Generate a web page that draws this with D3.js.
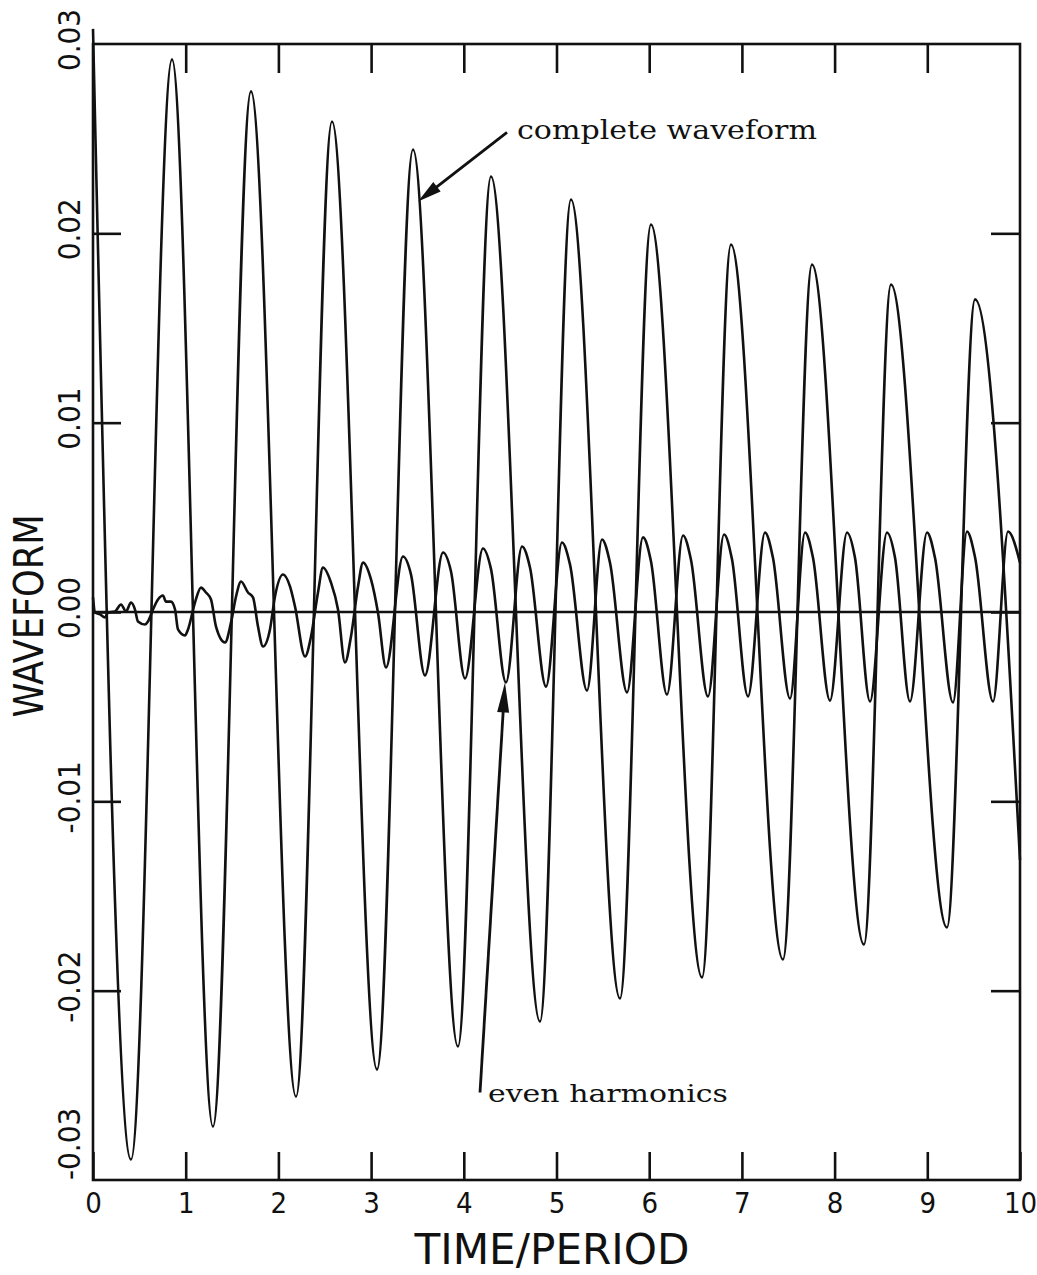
<!DOCTYPE html>
<html>
<head>
<meta charset="utf-8">
<script src="https://cdn.jsdelivr.net/npm/d3@7"></script>
<style>
  html, body { margin: 0; padding: 0; background: #fff; }
  svg { display: block; }
</style>
</head>
<body>
<svg id="chart" width="1037" height="1275"></svg>
<script>
// ---------------- data ----------------
const xTickValues = [0, 1, 2, 3, 4, 5, 6, 7, 8, 9, 10];
const xTickLabels = ["0", "1", "2", "3", "4", "5", "6", "7", "8", "9", "10"];
const yTickValues = [0.03, 0.02, 0.01, 0, -0.01, -0.02, -0.03];
const yTickLabels = ["0.03", "0.02", "0.01", "0.00", "-0.01", "-0.02", "-0.03"];

// complete waveform: successive peaks and troughs (time/period, waveform)
const completeT = [0, 0.410, 0.852, 1.294, 1.704, 2.190, 2.578, 3.064, 3.452, 3.937, 4.293, 4.822,
  5.156, 5.685, 6.019, 6.570, 6.882, 7.443, 7.756, 8.317, 8.608, 9.212, 9.515, 10.0];
const completeV = [0.0308, -0.02892, 0.02919, -0.02718, 0.02750, -0.02560, 0.02591, -0.02417,
  0.02443, -0.02295, 0.02300, -0.02163, 0.02179, -0.02041, 0.02047, -0.01930, 0.01941,
  -0.01835, 0.01835, -0.01756, 0.01730, -0.01666, 0.01651, -0.0131];

// even harmonics
const evenT = [0.000, 0.022, 0.076, 0.129, 0.162, 0.237, 0.302, 0.356, 0.410, 0.453, 0.485, 0.561,
  0.593, 0.647, 0.701, 0.755, 0.787, 0.841, 0.885, 0.917, 0.992, 1.025, 1.100, 1.165, 1.219,
  1.273, 1.327, 1.424, 1.489, 1.543, 1.597, 1.672, 1.726, 1.780, 1.834, 1.909, 1.963, 2.050,
  2.125, 2.179, 2.287, 2.352, 2.427, 2.481, 2.567, 2.643, 2.718, 2.783, 2.859, 2.913, 2.999,
  3.074, 3.161,
  3.344, 3.430, 3.581, 3.776, 3.862, 4.013, 4.207, 4.293, 4.455, 4.628, 4.714, 4.887,
  5.059, 5.146, 5.329, 5.491, 5.577, 5.761, 5.933, 6.019, 6.192, 6.365, 6.451, 6.634,
  6.807, 6.893, 7.066, 7.249, 7.335, 7.519, 7.681, 7.767, 7.950, 8.134, 8.220, 8.382,
  8.565, 8.652, 8.813, 8.997, 9.083, 9.277, 9.428, 9.515, 9.709, 9.871, 10.0];
const evenV = [0.00077, -0.00003, -0.00013, -0.00029, -0.00003, 0.00003, 0.00040, 0.00003,
  0.00050, 0.00013, -0.00050, -0.00066, -0.00050, 0.00013, 0.00066, 0.00087, 0.00055, 0.00055,
  0.00013, -0.00092, -0.00124, -0.00092, 0.00050, 0.00129, 0.00103, 0.00066, -0.00077,
  -0.00161, -0.00055, 0.00082, 0.00161, 0.00103, 0.00077, -0.00077, -0.00182, -0.00092,
  0.00082, 0.00198, 0.00135, 0.00029, -0.00235, -0.00129, 0.00103, 0.00235, 0.00156,
  0.00013, -0.00267, -0.00129, 0.00135, 0.00261, 0.00172, -0.00003, -0.00293,
  0.00293, 0.00199, -0.00335, 0.00314, 0.00214, -0.00351, 0.00335, 0.00228, -0.00372,
  0.00346, 0.00235, -0.00394, 0.00367, 0.00250, -0.00415, 0.00383, 0.00260, -0.00425,
  0.00394, 0.00268, -0.00436, 0.00404, 0.00275, -0.00446, 0.00409, 0.00278, -0.00446,
  0.00420, 0.00286, -0.00457, 0.00420, 0.00286, -0.00468, 0.00420, 0.00286, -0.00473,
  0.00420, 0.00286, -0.00473, 0.00420, 0.00286, -0.00478, 0.00425, 0.00289, -0.00473,
  0.00425, 0.0026];

const zeroLineT = [0, 10];
const zeroLineV = [0, 0];

// ---------------- drawing ----------------
const svg = d3.select("#chart");
const INK = "#111";
const plotFont = "'DejaVu Sans Condensed', 'DejaVu Sans', sans-serif";
const noteFont = "'DejaVu Serif', 'Liberation Serif', serif";

const x = d3.scaleLinear().domain([0, 10]).range([93, 1020]);
const y = d3.scaleLinear().domain([-0.03, 0.03]).range([1180, 44]);

// frame
svg.append("rect")
  .attr("x", x(0)).attr("y", y(0.03))
  .attr("width", x(10) - x(0)).attr("height", y(-0.03) - y(0.03))
  .attr("fill", "none").attr("stroke", INK).attr("stroke-width", 2.6);

function styleAxis(g) {
  g.select(".domain").remove();
  g.selectAll(".tick line").attr("stroke", INK).attr("stroke-width", 2.6);
  g.selectAll(".tick text").attr("fill", INK)
    .style("font-family", plotFont).style("font-size", "29px");
}

// bottom axis with labels, ticks pointing inward
svg.append("g")
  .attr("transform", `translate(0,${y(-0.03)})`)
  .call(d3.axisBottom(x).tickValues(xTickValues).tickSizeInner(-28).tickSizeOuter(0)
    .tickPadding(12).tickFormat((d, i) => xTickLabels[i]))
  .call(styleAxis);

// top axis: ticks only
svg.append("g")
  .attr("transform", `translate(0,${y(0.03)})`)
  .call(d3.axisTop(x).tickValues(xTickValues.slice(1, -1)).tickSizeInner(-29).tickSizeOuter(0).tickFormat(""))
  .call(styleAxis);

// left / right axes: ticks only
svg.append("g")
  .attr("transform", `translate(${x(0)},0)`)
  .call(d3.axisLeft(y).tickValues(yTickValues.slice(1, -1)).tickSizeInner(-28).tickSizeOuter(0).tickFormat(""))
  .call(styleAxis);
svg.append("g")
  .attr("transform", `translate(${x(10)},0)`)
  .call(d3.axisRight(y).tickValues(yTickValues.slice(1, -1)).tickSizeInner(-29).tickSizeOuter(0).tickFormat(""))
  .call(styleAxis);

// rotated y tick labels
const yLab = svg.append("g").attr("class", "ylabels");
yTickValues.forEach((v, i) => {
  const t = yLab.append("text")
    .attr("fill", INK)
    .style("font-family", plotFont).style("font-size", "31px")
    .attr("text-anchor", "middle")
    .text(yTickLabels[i]);
  const len = t.node().getComputedTextLength();
  let cy = y(v) - 4;
  if (cy + len / 2 > y(-0.03)) cy = y(-0.03) - len / 2;
  t.attr("transform", `translate(80,${cy}) rotate(-90)`);
});

// axis titles
svg.append("text")
  .attr("transform", `translate(43,616) rotate(-90)`)
  .attr("text-anchor", "middle")
  .attr("fill", INK)
  .attr("textLength", 203).attr("lengthAdjust", "spacingAndGlyphs")
  .style("font-family", plotFont).style("font-size", "41px")
  .text("WAVEFORM");

svg.append("text")
  .attr("x", 552).attr("y", 1264)
  .attr("text-anchor", "middle")
  .attr("fill", INK)
  .attr("textLength", 275).attr("lengthAdjust", "spacingAndGlyphs")
  .style("font-family", plotFont).style("font-size", "42px")
  .text("TIME/PERIOD");

// lines
const line = d3.line()
  .x(d => x(d[0]))
  .y(d => y(d[1]))
  .curve(d3.curveMonotoneX);

svg.append("path")
  .datum(d3.zip(zeroLineT, zeroLineV))
  .attr("d", d3.line().x(d => x(d[0])).y(d => y(d[1])))
  .attr("fill", "none").attr("stroke", INK).attr("stroke-width", 2.4);

svg.append("path")
  .datum(d3.zip(evenT, evenV))
  .attr("d", line)
  .attr("fill", "none").attr("stroke", INK).attr("stroke-width", 2.6)
  .attr("stroke-linejoin", "round");

svg.append("path")
  .datum(d3.zip(completeT, completeV))
  .attr("d", line)
  .attr("fill", "none").attr("stroke", INK).attr("stroke-width", 2.6)
  .attr("stroke-linejoin", "round");

// annotations
function arrow(t1, v1, t2, v2, headLen, headW) {
  const x1 = x(t1), y1 = y(v1), x2 = x(t2), y2 = y(v2);
  const dx = x2 - x1, dy = y2 - y1, L = Math.hypot(dx, dy);
  const ux = dx / L, uy = dy / L;
  svg.append("line")
    .attr("x1", x1).attr("y1", y1)
    .attr("x2", x2 - ux * headLen * 0.6).attr("y2", y2 - uy * headLen * 0.6)
    .attr("stroke", INK).attr("stroke-width", 2.8);
  const bx = x2 - ux * headLen, by = y2 - uy * headLen;
  const px = -uy * headW / 2, py = ux * headW / 2;
  svg.append("path")
    .attr("d", `M${x2},${y2}L${bx + px},${by + py}L${bx - px},${by - py}Z`)
    .attr("fill", INK);
}

arrow(4.466, 0.02533, 3.506, 0.02168, 24, 12);
arrow(4.175, -0.02538, 4.444, -0.00372, 30, 12);

svg.append("text")
  .attr("x", x(4.574)).attr("y", y(0.02496))
  .attr("fill", INK)
  .attr("textLength", 300).attr("lengthAdjust", "spacingAndGlyphs")
  .style("font-family", noteFont).style("font-size", "26px")
  .text("complete waveform");

svg.append("text")
  .attr("x", x(4.261)).attr("y", y(-0.02586))
  .attr("fill", INK)
  .attr("textLength", 240).attr("lengthAdjust", "spacingAndGlyphs")
  .style("font-family", noteFont).style("font-size", "25px")
  .text("even harmonics");
</script>
</body>
</html>
